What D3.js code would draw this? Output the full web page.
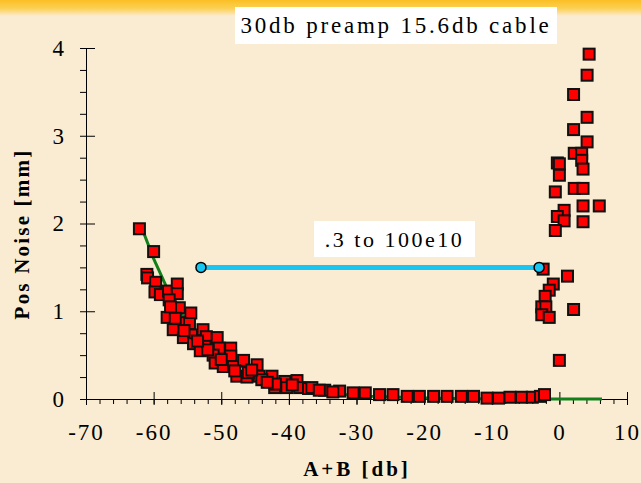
<!DOCTYPE html>
<html>
<head>
<meta charset="utf-8">
<script src="https://cdn.jsdelivr.net/npm/d3@7"></script>
<style>
  body { margin: 0; background: #fbeed6; }
  svg { display: block; }
  text { font-family: "Liberation Serif", "Times New Roman", Times, serif; }
</style>
</head>
<body>
<script>
const w = 641;
const h = 483;

// x ticks and y ticks
const xTicks = [-70, -60, -50, -40, -30, -20, -10, 0, 10];
const yTicks = [0, 1, 2, 3, 4];

// red squares: [A+B db, pos noise mm]
const mainX = [-62.1, -60.0, -61.0, -60.9, -59.7, -59.8, -59.0, -57.8, -56.5, -56.5, -57.7, -56.2, -54.5, -58.0, -56.2, -54.7,
  -57.1, -52.7, -54.4, -55.6, -52.2, -50.6, -54.1, -52.4, -50.3, -48.6, -53.1, -51.2, -48.6, -50.9, -49.7, -48.2,
  -46.7, -44.7, -47.7, -46.2, -44.4, -42.5, -40.6, -38.8, -42.1, -40.3, -38.4, -37.1, -36.6, -34.7, -32.5, -30.5,
  -28.7, -26.6, -24.6, -22.5, -20.7, -18.6, -16.6, -14.5, -12.7, -10.7, -9.0, -7.3, -5.6, -4.0, -2.8, -2.2,
  -50.0, -48.0, -46.0, -44.0, -42.0, -52.0, -53.5, -55.5, -56.8, -57.5, -45.5, -43.2, -39.5, -35.5, -33.5];
const mainY = [1.94, 1.68, 1.42, 1.38, 1.33, 1.22, 1.19, 1.23, 1.31, 1.20, 1.13, 1.04, 0.98, 0.93, 0.87, 0.86,
  0.79, 0.79, 0.73, 0.70, 0.71, 0.70, 0.63, 0.60, 0.58, 0.58, 0.55, 0.50, 0.49, 0.41, 0.37, 0.37,
  0.44, 0.39, 0.26, 0.25, 0.26, 0.26, 0.20, 0.21, 0.13, 0.13, 0.13, 0.12, 0.13, 0.10, 0.09, 0.07,
  0.07, 0.05, 0.05, 0.03, 0.03, 0.03, 0.03, 0.03, 0.03, 0.01, 0.01, 0.02, 0.02, 0.02, 0.03, 0.05,
  0.45, 0.32, 0.30, 0.22, 0.17, 0.56, 0.66, 0.78, 0.92, 1.05, 0.33, 0.19, 0.16, 0.10, 0.08];
const sideX = [4.4, 4.1, 2.1, 4.1, 2.1, 4.1, 2.2, 3.3, 3.3, -0.3, 0.0, 3.5, 0.0, -0.6, 2.2, 3.5, 3.5, 5.9,
  0.7, -0.3, 0.7, 3.5, -0.6, -2.4, 1.2, -0.9, -1.5, -2.1, -2.6, -2.0, 2.1, -2.6, -1.5, 0.0];
const sideY = [3.93, 3.69, 3.47, 3.21, 3.07, 2.93, 2.80, 2.80, 2.72, 2.69, 2.68, 2.62, 2.55, 2.36, 2.40, 2.40, 2.20, 2.20,
  2.15, 2.08, 2.03, 2.02, 1.92, 1.48, 1.40, 1.31, 1.24, 1.17, 1.05, 1.05, 1.02, 0.96, 0.93, 0.44];

// green fit line
const fitX = [-62, -60, -58, -56, -54, -52, -50, -48, -46, -44, -42, -40, -36, -32, -28, -20, -10, 0, 6.3];
const fitY = [2.0, 1.6, 1.26, 0.98, 0.8, 0.64, 0.52, 0.42, 0.33, 0.26, 0.2, 0.15, 0.09, 0.05, 0.03, 0.01, 0, 0, 0];

// cyan range bar
const rangeX = [-53.0, -3.0];
const rangeY = [1.5, 1.5];
const rangeLabel = ".3 to 100e10";
const title = "30db preamp 15.6db cable";

const svg = d3.select("body")
    .append("svg")
    .attr("width", w)
    .attr("height", h)

// parchment background with yellow band on top
const defs = svg.append("defs")
const grad = defs.append("linearGradient")
    .attr("id", "band")
    .attr("x1", 0).attr("y1", 0).attr("x2", 0).attr("y2", 1)
grad.append("stop").attr("offset", "0%").attr("stop-color", "#fbbf24")
grad.append("stop").attr("offset", "55%").attr("stop-color", "#fcd158")
grad.append("stop").attr("offset", "100%").attr("stop-color", "#faecd2")

svg.append("rect")
    .attr("width", w)
    .attr("height", h)
    .style("fill", "#faecd2")
svg.append("rect")
    .attr("width", w)
    .attr("height", 16)
    .style("fill", "url(#band)")

const x = d3.scaleLinear().domain([-70, 10]).range([86, 627])
const y = d3.scaleLinear().domain([0, 4]).range([399, 48])

// Left axis: minor ticks every .25, major every 1
svg.append("g")
    .attr("transform", "translate(86, 0)")
    .call(d3.axisLeft(y).tickValues(d3.range(0, 4.01, 0.25)).tickSize(6).tickFormat("").tickSizeOuter(0))
    .call(g => g.selectAll("line").style("stroke", "#000"))
    .call(g => g.select(".domain").style("stroke", "#000"))
svg.append("g")
    .attr("transform", "translate(86, 0)")
    .call(d3.axisLeft(y).tickValues(yTicks).tickSize(9).tickFormat(d => String(d)).tickPadding(13))
    .call(g => g.select(".domain").remove())
    .call(g => g.selectAll(".tick line").attr("x2", 9).style("stroke", "#000"))
    .call(g => g.selectAll("text").style("font-size", "23px").style("fill", "#000"))

// Bottom axis: minor ticks every 2, major every 10
svg.append("g")
    .attr("transform", "translate(0, 399)")
    .call(d3.axisBottom(x).tickValues(d3.range(-70, 10.01, 2)).tickSize(5).tickFormat("").tickSizeOuter(0))
    .call(g => g.selectAll("line").style("stroke", "#000"))
    .call(g => g.select(".domain").style("stroke", "#000"))
svg.append("g")
    .attr("transform", "translate(0, 399)")
    .call(d3.axisBottom(x).tickValues(xTicks).tickSize(6).tickPadding(19).tickFormat(d => String(d)))
    .call(g => g.select(".domain").remove())
    .call(g => g.selectAll(".tick line").attr("y1", -7).style("stroke", "#000"))
    .call(g => g.selectAll("text").style("font-size", "23px")
        .style("letter-spacing", "2px").style("fill", "#000"))

// Axis titles
svg.append("text")
    .attr("x", 357)
    .attr("y", 476)
    .attr("text-anchor", "middle")
    .text("A+B [db]")
    .style("font-weight", "bold")
    .style("font-size", "21px")
    .style("letter-spacing", "3px")

svg.append("text")
    .attr("transform", "translate(29, 234) rotate(-90)")
    .attr("text-anchor", "middle")
    .text("Pos Noise [mm]")
    .style("font-weight", "bold")
    .style("font-size", "21px")
    .style("letter-spacing", "2.2px")

// Green fit line
const line = d3.line().x(d => x(d[0])).y(d => y(d[1]))
svg.append("path")
    .datum(d3.zip(fitX, fitY))
    .attr("d", line)
    .style("fill", "none")
    .style("stroke", "#12801a")
    .style("stroke-width", 3)

// Red squares
const pts = d3.zip(mainX, mainY).concat(d3.zip(sideX, sideY))
svg.selectAll(".sq")
    .data(pts)
    .enter()
    .append("rect")
      .attr("class", "sq")
      .attr("x", d => x(d[0]) - 5.5)
      .attr("y", d => y(d[1]) - 5.5)
      .attr("width", 11)
      .attr("height", 11)
      .style("fill", "#ff0000")
      .style("stroke", "#111")
      .style("stroke-width", 2)

// Cyan range bar
const rng = d3.zip(rangeX, rangeY)
svg.append("path")
    .datum(rng)
    .attr("d", line)
    .style("stroke", "#19c6f2")
    .style("stroke-width", 5)
svg.selectAll(".end")
    .data(rng)
    .enter()
    .append("circle")
      .attr("class", "end")
      .attr("cx", d => x(d[0]))
      .attr("cy", d => y(d[1]))
      .attr("r", 5)
      .style("fill", "#19c6f2")
      .style("stroke", "#000")
      .style("stroke-width", 1.5)

// Label boxes
function boxLabel(x0, y0, bw, bh, base, size, spacing, txt) {
    svg.append("rect")
        .attr("x", x0)
        .attr("y", y0)
        .attr("width", bw)
        .attr("height", bh)
        .style("fill", "#fff")
    svg.append("text")
        .attr("x", x0 + bw / 2)
        .attr("y", base)
        .attr("text-anchor", "middle")
        .text(txt)
        .style("font-size", size + "px")
        .style("letter-spacing", spacing + "px")
}
boxLabel(314, 221, 161, 36, 247, 22, 2.5, rangeLabel)
boxLabel(235, 7, 322, 37, 33, 23, 2.8, title)
</script>
</body>
</html>
